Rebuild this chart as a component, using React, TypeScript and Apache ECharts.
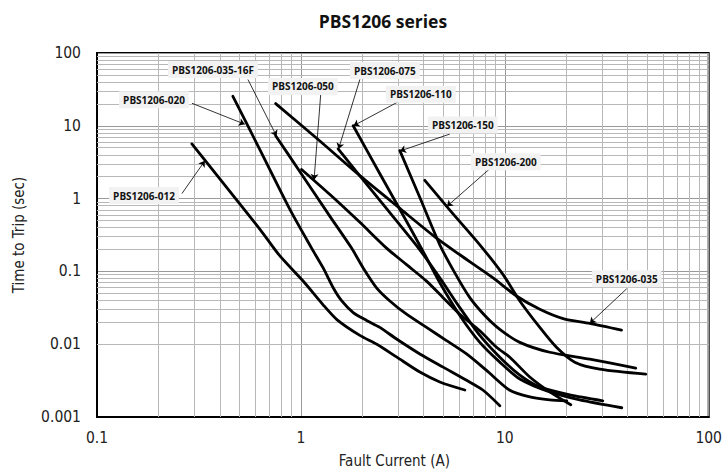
import React, { useEffect, useRef } from "react";
import * as echarts from "echarts";

// axis ticks
const xTickLabels = ["0.1", "1", "10", "100"];
const yTickLabels = ["0.001", "0.01", "0.1", "1", "10", "100"];

// curves: [Fault Current (A), Time to Trip (s)]
const pbs012 = [[0.292,5.64],[0.449,1.25],[0.63,0.379],[0.789,0.163],[1.023,0.0743],[1.282,0.035],[1.501,0.0218],[1.946,0.0132],[2.358,0.00997],[2.955,0.00663],[3.832,0.00414],[4.801,0.00303],[6.366,0.00235]];
const pbs020 = [[0.464,25.4],[0.63,4.67],[0.883,0.71],[1.128,0.209],[1.286,0.1116],[1.44,0.0596],[1.583,0.0396],[1.805,0.0272],[2.1,0.0212],[2.439,0.017],[2.945,0.0118],[3.832,0.00735],[4.983,0.00484],[6.492,0.00319],[7.829,0.00233],[9.452,0.00143]];
const pbs035_16F = [[0.752,7.31],[0.989,2.34],[1.388,0.57],[1.772,0.209],[2.02,0.1116],[2.35,0.0596],[2.731,0.0393],[3.297,0.0258],[4.133,0.017],[5.178,0.0112],[6.492,0.00735],[8.135,0.00437],[10.58,0.00233],[13.26,0.00189],[16.62,0.00172],[20.13,0.00167]];
const pbs050 = [[1.008,2.515],[1.388,1.137],[1.946,0.472],[2.631,0.209],[3.297,0.1238],[4.133,0.0735],[4.983,0.0436],[6.017,0.0258],[7.543,0.0153],[9.107,0.00907],[10.58,0.00663],[13.26,0.00354],[16.62,0.00221],[21.06,0.00147]];
const pbs075 = [[1.523,4.815],[2.439,0.942],[3.772,0.209],[4.801,0.0815],[6.017,0.0318],[7.543,0.0132],[9.452,0.00663],[11.85,0.00377],[14.85,0.00259],[20.83,0.00201],[30.23,0.00167]];
const pbs110 = [[1.805,10.0],[2.439,2.198],[3.422,0.404],[4.053,0.1694],[4.801,0.0697],[6.017,0.0248],[7.543,0.0106],[9.452,0.00567],[11.85,0.00333],[16.62,0.00221],[23.32,0.00172],[37.46,0.00134]];
const pbs150 = [[3.057,4.565],[3.832,1.035],[4.801,0.2318],[5.686,0.0954],[6.736,0.0436],[7.98,0.0248],[9.452,0.016],[11.85,0.0106],[16.62,0.00775],[26.11,0.00623],[43.87,0.00469]];
const pbs200 = [[4.053,1.781],[5.375,0.695],[7.543,0.2318],[9.81,0.0904],[11.85,0.0393],[14.85,0.017],[17.92,0.00907],[22.03,0.00567],[29.22,0.00455],[49.12,0.00389]];
const pbs035 = [[0.752,20.2],[1.239,6.19],[1.946,2.064],[3.057,0.733],[4.627,0.286],[6.017,0.1694],[8.763,0.0815],[11.41,0.0459],[14.85,0.0302],[19.31,0.0225],[26.11,0.0193],[37.34,0.0156]];

const seriesNames = ["PBS1206-012","PBS1206-020","PBS1206-035-16F","PBS1206-050","PBS1206-075","PBS1206-110","PBS1206-150","PBS1206-200","PBS1206-035"];
const seriesData = [pbs012, pbs020, pbs035_16F, pbs050, pbs075, pbs110, pbs150, pbs200, pbs035];

// annotation label centres, arrow starts and arrow tips (data coordinates)
const labelAt = [[0.17,1.102],[0.1903,22.75],[0.3704,59.24],[1.023,34.75],[2.581,57.4],[3.875,27.03],[6.225,10.22],[10.11,3.2],[39.63,0.079]];
const arrowFrom = [[0.261,1.173],[0.2922,20.39],[0.5497,43.27],[1.253,28.78],[1.946,43.27],[3.162,23.11],[5.375,7.7],[8.444,2.571],[39.63,0.0578]];
const arrowTo = [[0.338,3.3],[0.531,10.5],[0.76,7.2],[1.16,1.8],[1.53,4.8],[1.81,10.0],[3.06,4.5],[5.196,0.78],[26.1,0.0193]];

const FONT = "DejaVu Sans Condensed";

export default function App() {
  const ref = useRef<HTMLDivElement>(null);
  useEffect(() => {
    if (!ref.current) return;
    const chart = echarts.init(ref.current, null, { renderer: "svg" });

    const xMinor: any[] = [];
    const yMinor: any[] = [];
    for (let d = -1; d <= 1; d++) for (let k = 2; k <= 9; k++) xMinor.push({ xAxis: k * Math.pow(10, d) });
    for (let d = -3; d <= 1; d++) for (let k = 2; k <= 9; k++) yMinor.push({ yAxis: k * Math.pow(10, d) });

    const fmt = (labels: string[]) => (v: number) => {
      let best = labels[0];
      let bd = Infinity;
      for (const l of labels) {
        const dd = Math.abs(Math.log10(parseFloat(l)) - Math.log10(v));
        if (dd < bd) { bd = dd; best = l; }
      }
      return bd < 0.01 ? best : "";
    };

    const series: any[] = [
      {
        type: "line",
        name: "grid",
        data: [[0.1, 0.001]],
        symbol: "none",
        silent: true,
        z: 1,
        lineStyle: { width: 0 },
        markLine: {
          silent: true,
          z: 1,
          symbol: "none",
          label: { show: false },
          lineStyle: { color: "#b8b8b8", width: 1, type: "solid" },
          emphasis: { disabled: true },
          data: [...xMinor, ...yMinor],
        },
      },
    ];
    seriesData.forEach((d, i) => {
      series.push({
        type: "line",
        name: seriesNames[i],
        data: d,
        symbol: "none",
        showSymbol: false,
        smooth: 0.25,
        z: 3,
        lineStyle: { color: "#000", width: 2.8, type: "solid", cap: "round", join: "round" },
        markLine: {
          silent: true,
          z: 6,
          symbol: ["none", "arrow"],
          symbolSize: 6,
          label: { show: false },
          lineStyle: { color: "#000", width: 0.8, type: "solid" },
          emphasis: { disabled: true },
          data: [[{ coord: arrowFrom[i] }, { coord: arrowTo[i] }]],
        },
        markPoint: {
          silent: true,
          z: 7,
          symbol: "rect",
          symbolSize: 0,
          data: [{ coord: labelAt[i], value: seriesNames[i] }],
          label: {
            show: true,
            position: "inside",
            formatter: seriesNames[i],
            backgroundColor: "#f2f2f2",
            padding: [4, 4, 3, 4],
            fontSize: 10,
            fontWeight: "bold",
            fontFamily: "Open Sans",
            color: "#111",
          },
        },
      });
    });

    chart.setOption({
      animation: false,
      title: {
        text: "PBS1206 series",
        left: 383,
        top: 12,
        textAlign: "center",
        padding: 0,
        textStyle: { fontSize: 17.5, fontWeight: "bold", fontFamily: "Open Sans", color: "#111" },
      },
      grid: { left: 97, top: 53, right: 16, bottom: 53, show: true, borderColor: "#000", borderWidth: 2, backgroundColor: "transparent" },
      xAxis: {
        type: "log",
        logBase: 10,
        min: 0.1,
        max: 100,
        name: "Fault Current (A)",
        nameLocation: "middle",
        nameGap: 36,
        nameTextStyle: { fontFamily: FONT, fontSize: 15, color: "#222", padding: [0, 17, 0, 0] },
        axisLine: { show: true, lineStyle: { color: "#000", width: 2 } },
        axisTick: { show: false },
        axisLabel: { formatter: fmt(xTickLabels), fontFamily: FONT, fontSize: 15.5, color: "#222", margin: 13 },
        splitLine: { show: true, lineStyle: { color: "#999", width: 1 } },
      },
      yAxis: {
        type: "log",
        logBase: 10,
        min: 0.001,
        max: 100,
        name: "Time to Trip (sec)",
        nameLocation: "middle",
        nameGap: 71,
        nameTextStyle: { fontFamily: FONT, fontSize: 15, color: "#222" },
        axisLine: { show: true, lineStyle: { color: "#000", width: 2 } },
        axisTick: { show: false },
        axisLabel: { formatter: fmt(yTickLabels), fontFamily: FONT, fontSize: 15.5, color: "#222", margin: 16 },
        splitLine: { show: true, lineStyle: { color: "#999", width: 1 } },
      },
      series,
    });
    return () => chart.dispose();
  }, []);
  return <div ref={ref} style={{ position: "fixed", left: 0, top: 0, width: 725, height: 473, background: "#fff" }} />;
}
